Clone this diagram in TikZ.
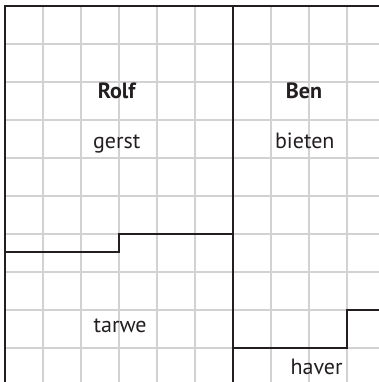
\documentclass[tikz,border=0pt]{standalone}
\usepackage{fontspec}
\setmainfont{PT Sans}
\usepackage{tikz}
\definecolor{ink}{HTML}{231F20}
\definecolor{gridgray}{HTML}{D2D2D2}

\begin{document}
\begin{tikzpicture}[x=1.0cm,y=-1.0cm,
    field/.style={font=\fontsize{16.5}{18}\selectfont,inner sep=0pt,anchor=base,ink},
    owner/.style={field,font=\fontsize{16.5}{18}\selectfont\bfseries},
    border/.style={line width=1.5pt,ink}]
        \useasboundingbox (-0.1316,-0.158) rectangle (9.842,9.895);
        \clip (-0.1316,-0.158) rectangle (9.842,9.895);
        \draw[gridgray,line width=0.8pt] (0,0) grid (10,10);
        \draw[border] (0,10) -- (0,0) -- (10,0);
        \draw[border] (6,0) -- (6,10);
        \draw[border] (0,6.48) -- (3,6.48) -- (3,6) -- (6,6);
        \draw[border] (6,9) -- (9,9) -- (9,8) -- (10,8);
        \node[owner] (rolf) at (2.94,2.43) {Rolf};
        \node[field] (gerst) at (2.94,3.76) {gerst};
        \node[owner] (ben) at (7.87,2.43) {Ben};
        \node[field] (bieten) at (7.89,3.76) {bieten};
        \node[field] (tarwe) at (3.03,8.59) {tarwe};
        \node[field] (haver) at (8.2,9.71) {haver};
      \end{tikzpicture}
\end{document}
